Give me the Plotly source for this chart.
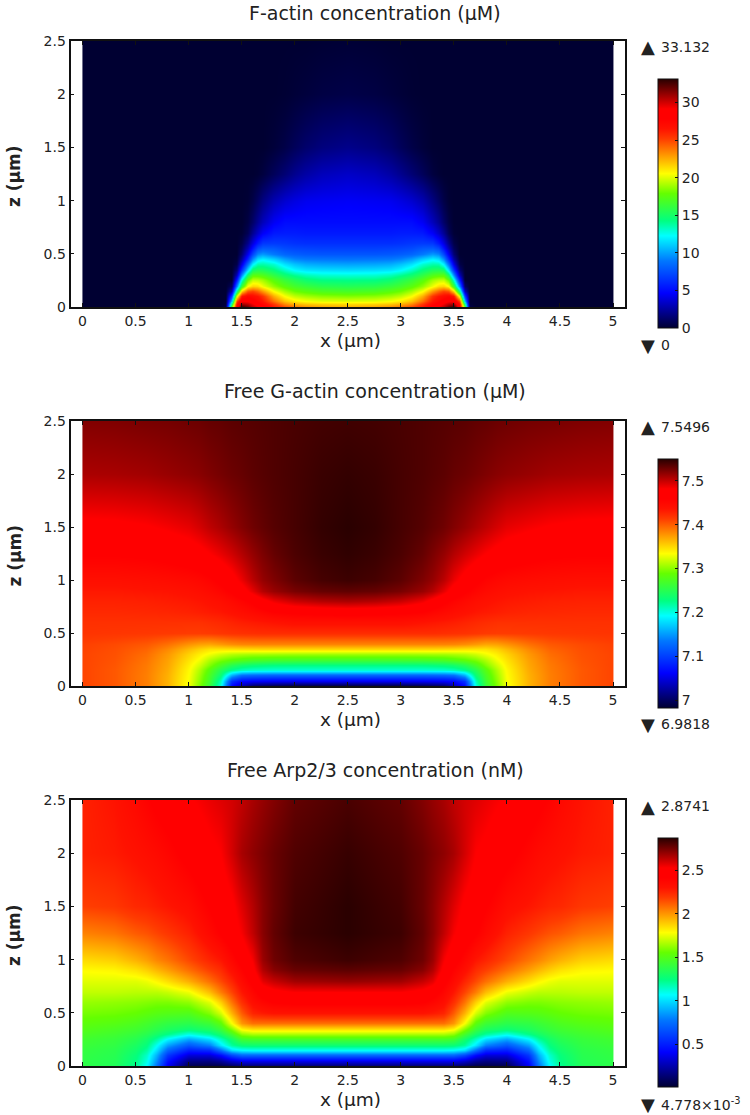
import plotly.graph_objects as go

# ---- Panel 1: F-actin (uM), left half of a field symmetric about x = 2.5
factin_x = [0, 1.3, 1.35, 1.4, 1.45, 1.5, 1.55, 1.6, 1.65, 1.7, 1.8, 1.9, 2.0, 2.1, 2.25, 2.5]
factin_z = [0, .03, .06, .1, .15, .2, .25, .3, .35, .4, .45, .5, .55, .6, .7, .8, 1, 1.25, 1.5, 2, 2.5]
factin_v = [
 [0,0,.5,18,28,33,32,30.5,29.5,28.5,26.5,25,24,23.3,22.8,22.5],
 [0,0,.2,15,27,31,30.5,29.5,28.5,27.5,25.5,23.5,22.5,22,21.7,21.5],
 [0,0,0,11,25,29,29,28.5,27.5,26.5,24,22,21,20.5,20.1,20],
 [0,0,0,7,20,26.5,27.5,27,26.5,25.5,22.5,20.5,19.5,19,18.6,18.4],
 [0,0,0,3,14,21.5,24.5,25,24.2,23,20.5,19,18,17.5,17,16.8],
 [0,0,0,1,9,16.5,20.5,21.5,21.3,20.3,18.7,17.5,16.7,16.2,15.7,15.5],
 [0,0,0,0,5.5,13,18,19.6,19.5,19,17.5,16.3,15.5,14.8,14.3,14.2],
 [0,0,0,0,3,9.5,15,17.5,17.5,17.2,16,14.8,14,13.4,13,12.9],
 [0,0,0,0,1.5,6.5,11.5,15,15.5,15.4,14.5,13.2,12.2,11.7,11.5,11.4],
 [0,0,0,0,.5,4,8.5,12,13.5,13.6,13,11.6,10.8,10.3,10.1,10],
 [0,0,0,0,.2,2.5,6,9.5,11.5,12,11.2,10,9.3,9,8.9,8.8],
 [0,0,0,0,0,1.5,4.3,7.2,9.3,9.8,9,8.3,8,7.8,7.7,7.7],
 [0,0,0,0,0,.9,2.9,5.2,7.2,7.9,7.8,7.3,7.1,7,6.9,6.9],
 [0,0,0,0,0,.5,2,3.9,5.5,6.6,6.7,6.6,6.4,6.3,6.3,6.3],
 [0,0,0,0,0,.1,.8,2.2,3.4,4.5,5.5,5.6,5.6,5.5,5.5,5.5],
 [0,0,0,0,0,0,.4,1.2,2.2,3.1,4.4,5,5,5,5,5],
 [0,0,0,0,0,0,.1,.5,1.1,1.8,2.9,3.6,4,4.3,4.4,4.5],
 [0,0,0,0,0,0,0,0,.1,.3,.9,1.5,2.1,2.6,3.1,3.4],
 [0,0,0,0,0,0,0,0,0,0,.2,.5,.9,1.3,1.7,2],
 [0,0,0,0,0,0,0,0,0,0,0,.05,.15,.25,.4,.5],
 [0,0,0,0,0,0,0,0,0,0,0,0,0,0,.05,.1],
]

# ---- Panel 2: free G-actin (uM)
gactin_x = [0, .3, .6, .8, 1.0, 1.1, 1.2, 1.3, 1.4, 1.5, 1.6, 1.7, 1.8, 2.0, 2.25, 2.5]
gactin_z = [0, .05, .1, .15, .2, .25, .3, .35, .4, .5, .6, .7, .8, .9, 1, 1.25, 1.5, 2, 2.5]
gactin_v = [
 [7.41,7.402,7.386,7.365,7.33,7.295,7.258,7.20,7.065,7.03,7.0,6.995,6.99,6.985,6.985,6.985],
 [7.41,7.402,7.386,7.365,7.332,7.30,7.265,7.21,7.09,7.065,7.06,7.058,7.057,7.056,7.056,7.056],
 [7.41,7.402,7.386,7.366,7.334,7.305,7.272,7.232,7.16,7.13,7.125,7.123,7.122,7.122,7.122,7.122],
 [7.41,7.402,7.387,7.368,7.336,7.31,7.28,7.248,7.222,7.21,7.205,7.204,7.203,7.203,7.203,7.203],
 [7.41,7.403,7.388,7.37,7.34,7.32,7.297,7.272,7.25,7.238,7.232,7.229,7.227,7.226,7.226,7.226],
 [7.41,7.404,7.39,7.372,7.345,7.33,7.31,7.295,7.285,7.278,7.272,7.27,7.268,7.267,7.266,7.266],
 [7.41,7.405,7.393,7.376,7.352,7.34,7.33,7.32,7.313,7.31,7.308,7.308,7.307,7.306,7.306,7.306],
 [7.411,7.406,7.397,7.382,7.362,7.352,7.345,7.345,7.346,7.348,7.349,7.35,7.35,7.35,7.35,7.35],
 [7.412,7.408,7.402,7.392,7.378,7.372,7.37,7.375,7.38,7.383,7.384,7.384,7.384,7.384,7.384,7.384],
 [7.418,7.417,7.416,7.415,7.414,7.414,7.415,7.417,7.419,7.42,7.421,7.422,7.422,7.422,7.422,7.422],
 [7.42,7.42,7.42,7.42,7.42,7.42,7.422,7.424,7.427,7.43,7.432,7.434,7.436,7.44,7.44,7.44],
 [7.424,7.424,7.425,7.426,7.428,7.43,7.432,7.434,7.438,7.442,7.447,7.452,7.458,7.462,7.465,7.467],
 [7.428,7.428,7.429,7.431,7.433,7.435,7.438,7.441,7.447,7.454,7.462,7.474,7.486,7.498,7.505,7.508],
 [7.433,7.433,7.435,7.436,7.439,7.442,7.446,7.452,7.461,7.472,7.489,7.505,7.514,7.524,7.53,7.532],
 [7.44,7.44,7.442,7.444,7.447,7.45,7.455,7.463,7.474,7.487,7.503,7.515,7.522,7.533,7.54,7.543],
 [7.46,7.46,7.462,7.466,7.471,7.475,7.481,7.488,7.496,7.505,7.515,7.523,7.53,7.538,7.544,7.547],
 [7.476,7.477,7.48,7.484,7.489,7.495,7.502,7.508,7.515,7.521,7.527,7.531,7.535,7.54,7.546,7.549],
 [7.508,7.509,7.511,7.514,7.517,7.519,7.522,7.525,7.528,7.53,7.533,7.535,7.537,7.54,7.544,7.546],
 [7.521,7.522,7.524,7.525,7.527,7.528,7.53,7.531,7.533,7.534,7.535,7.536,7.537,7.539,7.541,7.542],
]

# ---- Panel 3: free Arp2/3 (nM)
arp_x = [0, .3, .5, .6, .7, .8, 1.0, 1.2, 1.3, 1.4, 1.5, 1.6, 1.7, 1.8, 2.0, 2.5]
arp_z = [0, .05, .1, .15, .2, .25, .3, .35, .4, .5, .6, .7, .8, .9, 1, 1.25, 1.5, 2, 2.5]
arp_v = [
 [1.38,1.34,1.22,1.06,.75,.38,.06,.04,.04,.08,.12,.12,.12,.12,.12,.12],
 [1.38,1.35,1.24,1.1,.82,.45,.17,.16,.2,.3,.36,.36,.36,.36,.36,.36],
 [1.39,1.36,1.26,1.14,.9,.57,.33,.33,.43,.62,.72,.72,.72,.72,.72,.72],
 [1.40,1.37,1.29,1.2,1.0,.72,.5,.54,.75,1.0,1.06,1.08,1.08,1.08,1.08,1.08],
 [1.42,1.39,1.32,1.25,1.08,.87,.68,.8,1.02,1.2,1.27,1.28,1.28,1.28,1.28,1.28],
 [1.44,1.41,1.36,1.3,1.2,1.05,.88,1.0,1.15,1.3,1.44,1.46,1.46,1.46,1.46,1.46],
 [1.47,1.44,1.40,1.36,1.3,1.23,1.1,1.2,1.3,1.45,1.62,1.66,1.66,1.66,1.66,1.66],
 [1.5,1.47,1.44,1.41,1.37,1.33,1.28,1.33,1.42,1.6,1.8,1.85,1.85,1.85,1.85,1.85],
 [1.53,1.51,1.48,1.45,1.42,1.39,1.37,1.43,1.53,1.78,2.0,2.08,2.08,2.08,2.08,2.08],
 [1.58,1.57,1.55,1.53,1.51,1.5,1.49,1.6,1.72,1.94,2.12,2.25,2.28,2.3,2.3,2.3],
 [1.63,1.62,1.61,1.60,1.59,1.59,1.62,1.74,1.88,2.07,2.22,2.33,2.38,2.42,2.44,2.44],
 [1.69,1.69,1.68,1.68,1.68,1.7,1.76,1.92,2.05,2.17,2.29,2.38,2.46,2.5,2.53,2.53],
 [1.74,1.74,1.74,1.76,1.8,1.85,1.95,2.08,2.16,2.25,2.35,2.44,2.57,2.62,2.68,2.7],
 [1.79,1.8,1.84,1.88,1.93,1.98,2.08,2.18,2.23,2.32,2.4,2.5,2.65,2.72,2.77,2.79],
 [1.855,1.88,1.94,1.98,2.03,2.07,2.16,2.25,2.29,2.37,2.45,2.54,2.69,2.76,2.81,2.84],
 [2.04,2.07,2.12,2.14,2.17,2.2,2.26,2.36,2.42,2.48,2.54,2.63,2.72,2.78,2.84,2.87],
 [2.18,2.2,2.24,2.25,2.27,2.29,2.33,2.42,2.47,2.51,2.58,2.65,2.72,2.77,2.83,2.87],
 [2.26,2.28,2.31,2.33,2.35,2.38,2.45,2.51,2.53,2.6,2.67,2.71,2.74,2.77,2.81,2.85],
 [2.26,2.3,2.36,2.4,2.44,2.47,2.52,2.56,2.58,2.6,2.63,2.67,2.7,2.73,2.78,2.82],
]

titles = ["F-actin concentration (µM)", "Free G-actin concentration (µM)", "Free Arp2/3 concentration (nM)"]
x_title = "x (µm)"
z_title = "<b>z (µm)</b>"
max_labels = ["33.132", "7.5496", "2.8741"]
min_labels = ["0", "6.9818", "4.778×10<sup>-3</sup>"]
value_min = [0, 6.9818, 0.004778]
value_max = [33.132, 7.5496, 2.8741]
cbar_ticks = [[0, 5, 10, 15, 20, 25, 30], [7, 7.1, 7.2, 7.3, 7.4, 7.5], [0.5, 1, 1.5, 2, 2.5]]
cbar_ticklabels = [["0", "5", "10", "15", "20", "25", "30"], ["7", "7.1", "7.2", "7.3", "7.4", "7.5"], ["0.5", "1", "1.5", "2", "2.5"]]
x_ticks = [0, .5, 1, 1.5, 2, 2.5, 3, 3.5, 4, 4.5, 5]
z_ticks = [0, .5, 1, 1.5, 2, 2.5]

colors = [
    [0.00, "rgb(0,0,50)"], [0.14, "rgb(0,0,255)"], [0.27, "rgb(0,120,255)"],
    [0.37, "rgb(0,255,255)"], [0.43, "rgb(0,255,130)"], [0.54, "rgb(100,255,0)"],
    [0.62, "rgb(255,255,0)"], [0.76, "rgb(255,60,0)"], [0.80, "rgb(255,18,0)"],
    [0.84, "rgb(255,0,0)"], [0.88, "rgb(255,0,0)"], [1.00, "rgb(40,0,0)"],
]

W, H = 750, 1115
TEXT = "#222222"
FONT = "DejaVu Sans"
panels = [(41, 307, 79), (421, 686, 459), (800, 1066, 838)]
fields = [(factin_x, factin_z, factin_v), (gactin_x, gactin_z, gactin_v), (arp_x, arp_z, arp_v)]


def full_field(xs, zs, vals):
    # mirror the left half about x = 2.5; thin duplicate cells keep the image edge on 0, 5, and z = 0, 2.5
    right = [5 - x for x in xs[-2::-1]]
    fx = [xs[0], xs[0] + 1e-3] + xs[1:] + right[:-1] + [5 - 1e-3, 5]
    rows = []
    for r in vals:
        m = r + r[-2::-1]
        rows.append([m[0]] + m + [m[-1]])
    fz = [zs[0], zs[0] + 1e-3] + zs[1:-1] + [zs[-1] - 1e-3, zs[-1]]
    rows = [rows[0]] + rows[:-1] + [rows[-1], rows[-1]]
    return fx, fz, rows


def note(text, px, py, size, anchor="left", angle=0):
    return dict(text=text, x=px / W, y=1 - py / H, xref="paper", yref="paper", xanchor=anchor,
                yanchor="middle", showarrow=False, textangle=angle,
                font=dict(family=FONT, size=size, color=TEXT))


fig = go.Figure()
anns = []
layout_axes = {}
for i, ((top, bot, cb_top), (xs, zs, vals)) in enumerate(zip(panels, fields)):
    fx, fz, rows = full_field(xs, zs, vals)
    n = "" if i == 0 else str(i + 1)
    fig.add_trace(go.Heatmap(
        x=fx, y=fz, z=rows, xaxis="x" + n, yaxis="y" + n, zsmooth="best",
        zmin=value_min[i], zmax=value_max[i], colorscale=colors,
        colorbar=dict(
            x=657.5 / W, xanchor="left", y=1 - cb_top / H, yanchor="top",
            lenmode="pixels", len=249, thicknessmode="pixels", thickness=19.5,
            xpad=0, ypad=0, outlinecolor="#111", outlinewidth=1,
            ticks="inside", ticklen=3, tickcolor="#111",
            tickvals=cbar_ticks[i], ticktext=cbar_ticklabels[i],
            tickfont=dict(family=FONT, size=14, color=TEXT),
        ),
    ))
    common = dict(showline=True, linecolor="#111", linewidth=1.8, mirror="ticks", ticks="inside",
                  ticklen=4, tickcolor="#111", showgrid=False, zeroline=False, automargin=False,
                  tickfont=dict(family=FONT, size=14, color=TEXT))
    layout_axes["xaxis" + n] = dict(
        common, domain=[70.5 / W, 625 / W], range=[-0.113, 5.113], anchor="y" + n,
        tickvals=x_ticks, ticktext=[f"{v:g}" for v in x_ticks])
    layout_axes["yaxis" + n] = dict(
        common, domain=[1 - bot / H, 1 - top / H], range=[0, 2.5], anchor="x" + n,
        tickvals=z_ticks, ticktext=[f"{v:g}" for v in z_ticks])
    anns.append(note(titles[i], 375, 13 if i == 0 else top - 30, 19, "center"))
    anns.append(note(x_title, 350, bot + 33, 18.5, "center"))
    anns.append(note(z_title, 14, (top + bot) / 2 + 2, 17, "center", -90))
    anns.append(note("▲", 648, top + 6, 18, "center"))
    anns.append(note(max_labels[i], 659, top + 6, 14))
    anns.append(note("▼", 648, bot + 38, 18, "center"))
    anns.append(note(min_labels[i], 659, bot + 38, 14))

fig.update_layout(width=W, height=H, margin=dict(l=0, r=0, t=0, b=0, autoexpand=False),
                  paper_bgcolor="white", plot_bgcolor="white", annotations=anns,
                  font=dict(family=FONT, color=TEXT), **layout_axes)
fig.write_html("out.html", post_script="document.body.style.margin='0';", config=dict(displayModeBar=False))
